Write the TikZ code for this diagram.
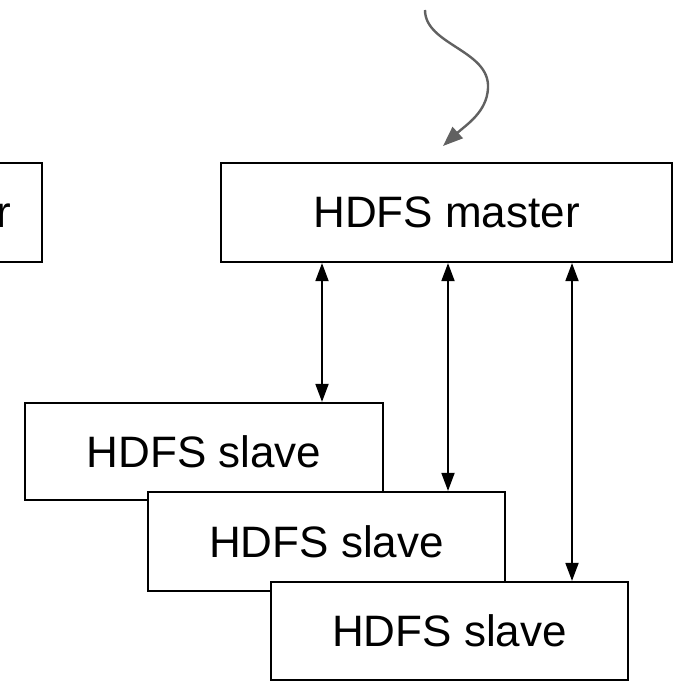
\documentclass[tikz,border=0pt]{standalone}
\usepackage{fontspec}
\setmainfont{Liberation Sans}
\usetikzlibrary{arrows.meta}
\begin{document}
\begin{tikzpicture}[x=1pt,y=-1pt,
  box/.style={draw=black,fill=white,line width=2.2pt,inner sep=0pt,
    font=\fontsize{44}{53}\selectfont},
  link/.style={line width=1.8pt,{Triangle[length=18pt,width=13pt]}-{Triangle[length=18pt,width=13pt]}},
  feed/.style={draw=black!62,line width=2.4pt,-{Triangle[length=20pt,width=15pt]}}]
\useasboundingbox (0,0) rectangle (677,684);
\clip (0,0) rectangle (677,684);

% partly visible box on the left edge
\node[box,minimum width=200pt,minimum height=99pt] (left) at (-58,212.5) {};
\node[anchor=base east,inner sep=0pt,font=\fontsize{44}{53}\selectfont] (lefttext) at (11,228) {r};

% master
\node[box,minimum width=451pt,minimum height=99pt] (master) at (446.5,212.5) {HDFS master};

% slaves, each drawn over the previous one
\node[box,minimum width=358pt,minimum height=97pt] (slave1) at (204,451.5) {HDFS slave};
\node[box,minimum width=357pt,minimum height=99pt] (slave2) at (326.5,541.5) {HDFS slave};
\node[box,minimum width=357pt,minimum height=98pt] (slave3) at (449.5,631) {HDFS slave};

% incoming request
\coordinate (src) at (425,10);
\coordinate (tip) at (443,146);
\draw[feed] (src) .. controls (425,45) and (490,50) .. (488,88)
  .. controls (487,112) and (466,125) .. (tip);

% master <-> slave links
\coordinate (l1) at (322,0);
\coordinate (l2) at (448,0);
\coordinate (l3) at (572,0);
\draw[link] (l1 |- master.south) -- (l1 |- slave1.north);
\draw[link] (l2 |- master.south) -- (l2 |- slave2.north);
\draw[link] (l3 |- master.south) -- (l3 |- slave3.north);
\end{tikzpicture}
\end{document}
